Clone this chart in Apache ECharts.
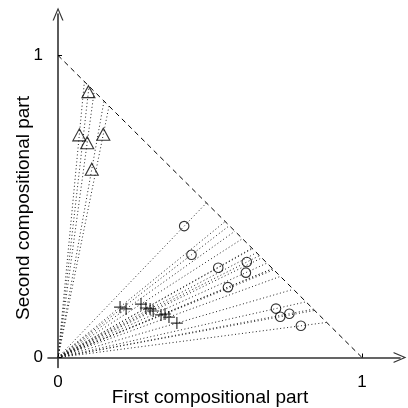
<!DOCTYPE html>
<html><head><meta charset="utf-8">
<script src="https://cdn.jsdelivr.net/npm/echarts@6/dist/echarts.min.js"></script>
<style>html,body{margin:0;padding:0;background:#fff}#c{width:408px;height:408px}</style>
</head><body><div id="c"></div>
<script>
// Triangles
const triX = [0.100, 0.070, 0.149, 0.096, 0.111];
const triY = [0.880, 0.737, 0.739, 0.711, 0.623];
// Circles
const circX = [0.415, 0.439, 0.527, 0.621, 0.618, 0.559, 0.717, 0.731, 0.761, 0.799];
const circY = [0.435, 0.340, 0.297, 0.316, 0.281, 0.233, 0.162, 0.135, 0.145, 0.105];
// Plus signs
const plusX = [0.204, 0.224, 0.273, 0.289, 0.303, 0.313, 0.339, 0.352, 0.365, 0.391];
const plusY = [0.167, 0.161, 0.177, 0.164, 0.161, 0.154, 0.141, 0.144, 0.134, 0.114];
const tickValues = [0, 1];
const xTitle = 'First compositional part';
const yTitle = 'Second compositional part';

const FONT = '"Liberation Sans", Arial, sans-serif';
function pts(xs, ys){ return xs.map((x,i)=>[x, ys[i]]); }
const allPts = pts(triX,triY).concat(pts(circX,circY), pts(plusX,plusY));
const rays = allPts.map(p => { const s = p[0]+p[1]; return {coords: [[0,0],[p[0]/s, p[1]/s]]}; });

const arrowPath = 'path://M6,0 L12,14 L10.6,14 L6,3 L1.4,14 L0,14 Z';
const chart = echarts.init(document.getElementById('c'));
const axisCommon = {
  type: 'value',
  axisLine: {show: true, onZero: true, lineStyle: {color: '#333', width: 1.6},
             symbol: ['none', arrowPath], symbolSize: [11, 14]},
  axisTick: {show: true, inside: true, length: 4, customValues: tickValues, lineStyle: {color: '#000', width: 1}},
  axisLabel: {show: true, customValues: tickValues, color: '#000', fontSize: 17, fontFamily: FONT},
  splitLine: {show: false}
};
chart.setOption({
  animation: false,
  backgroundColor: '#fff',
  grid: {left: 48, right: 8, top: 14, bottom: 40.5},
  xAxis: Object.assign({}, axisCommon, {min: -0.033, max: 1.125,
    axisLabel: Object.assign({}, axisCommon.axisLabel, {margin: 6})}),
  yAxis: Object.assign({}, axisCommon, {min: -0.033, max: 1.137,
    axisLabel: Object.assign({}, axisCommon.axisLabel, {margin: 5})}),
  graphic: [
    {type: 'text', style: {text: xTitle, fill: '#000', font: '19px ' + FONT, textAlign: 'center', textVerticalAlign: 'middle'}, position: [210, 398]},
    {type: 'text', style: {text: yTitle, fill: '#000', font: '19px ' + FONT, textAlign: 'center', textVerticalAlign: 'middle'}, position: [24, 208], rotation: Math.PI/2}
  ],
  series: [
    {type: 'lines', coordinateSystem: 'cartesian2d', data: rays, silent: true,
     lineStyle: {color: '#222', width: 1, type: [1, 2.5], opacity: 1}},
    {type: 'line', data: [[0,1],[1,0]], symbol: 'none', silent: true,
     lineStyle: {color: '#000', width: 1, type: [5, 4]}},
    {type: 'scatter', data: pts(triX, triY), symbol: 'triangle', symbolSize: [13, 12],
     itemStyle: {color: 'rgba(0,0,0,0)', borderColor: '#000', borderWidth: 1.1}},
    {type: 'scatter', data: pts(circX, circY), symbol: 'circle', symbolSize: 9.5,
     itemStyle: {color: 'rgba(0,0,0,0)', borderColor: '#000', borderWidth: 1.1}},
    {type: 'scatter', data: pts(plusX, plusY), symbol: 'path://M0,5 L10,5 M5,0 L5,10', symbolSize: 12,
     itemStyle: {color: 'none', borderColor: '#000', borderWidth: 1.2}}
  ]
});
</script></body></html>
